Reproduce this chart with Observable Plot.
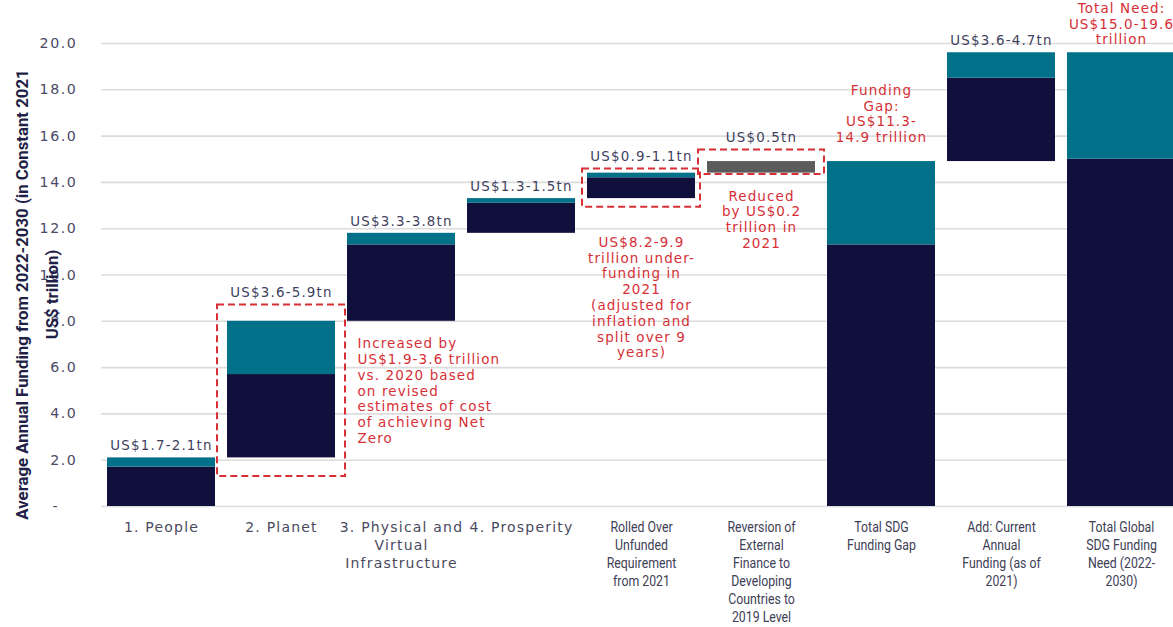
<!DOCTYPE html>
<html><head><meta charset="utf-8">
<script src="https://cdn.jsdelivr.net/npm/d3@7"></script>
<script src="https://cdn.jsdelivr.net/npm/@observablehq/plot@0.6"></script>
<style>
html,body{margin:0;padding:0;background:#fff;}
#chart svg{display:block;overflow:hidden;}
</style></head><body><div id="chart"></div>
<script>
const categories = [
  "1. People",
  "2. Planet",
  "3. Physical and\nVirtual\nInfrastructure",
  "4. Prosperity",
  "Rolled Over\nUnfunded\nRequirement\nfrom 2021",
  "Reversion of\nExternal\nFinance to\nDeveloping\nCountries to\n2019 Level",
  "Total SDG\nFunding Gap",
  "Add: Current\nAnnual\nFunding (as of\n2021)",
  "Total Global\nSDG Funding\nNeed (2022-\n2030)"
];
const darkLow  = [0,   2.1, 8.0,  11.8, 13.3, null, 0,    14.9, 0];
const darkHigh = [1.7, 5.7, 11.3, 13.1, 14.2, null, 11.3, 18.5, 15.0];
const tealHigh = [2.1, 8.0, 11.8, 13.3, 14.4, null, 14.9, 19.6, 19.6];
const grayLow  = [null, null, null, null, null, 14.4, null, null, null];
const grayHigh = [null, null, null, null, null, 14.9, null, null, null];
const valueLabels = ["US$1.7-2.1tn", "US$3.6-5.9tn", "US$3.3-3.8tn", "US$1.3-1.5tn", "US$0.9-1.1tn", "US$0.5tn", null, "US$3.6-4.7tn", null];

const boxIndex = [1, 4, 5];
const boxLow   = [1.3, 12.93, 14.34];
const boxHigh  = [8.7, 14.58, 15.4];
const boxPad   = [10, 5, 9];

const noteIndex = [4, 5, 6, 8];
const noteY = [9.05, 12.41, 16.98, 20.86];
const noteText = [
  "US$8.2-9.9\ntrillion under-\nfunding in\n2021\n(adjusted for\ninflation and\nsplit over 9\nyears)",
  "Reduced\nby US$0.2\ntrillion in\n2021",
  "Funding\nGap:\nUS$11.3-\n14.9 trillion",
  "Total Need:\nUS$15.0-19.6\ntrillion"
];
const planetNote = "Increased by\nUS$1.9-3.6 trillion\nvs. 2020 based\non revised\nestimates of cost\nof achieving Net\nZero";
const planetNoteIndex = 2;
const planetNoteY = 5.01;

const yTicks = [0, 2, 4, 6, 8, 10, 12, 14, 16, 18, 20];
const yTitle = "Average Annual Funding from 2022-2030 (in Constant 2021\nUS$ trillion)";

const navy = "#10103d", teal = "#01718a", gray = "#5b5b5b", red = "#d62f35";
const labelColor = "#3f3f5e";

const rows = categories.map((c, i) => ({
  c, dl: darkLow[i], dh: darkHigh[i], th: tealHigh[i], gl: grayLow[i], gh: grayHigh[i], label: valueLabels[i]
}));
const boxes = boxIndex.map((i, k) => ({c: categories[i], lo: boxLow[k], hi: boxHigh[k]}));
const labelRows = rows.filter(r => r.label).map(r => {
  const k = boxIndex.indexOf(categories.indexOf(r.c));
  return {c: r.c, label: r.label, top: k >= 0 ? boxHigh[k] : (r.th ?? r.gh)};
});
const notes = noteIndex.map((i, k) => ({c: categories[i], y: noteY[k], text: noteText[k]}));

// distinct font sizes identify each text group for the letter-spacing pass below
const fs = {value: 13.4, note: 13.5, ytick: 14.2, xleft: 14, xright: 14.5, title: 16.8};

const chart = Plot.plot({
  width: 1173, height: 627,
  marginLeft: 101, marginRight: 0, marginTop: 38, marginBottom: 121,
  x: {domain: categories, range: [95, 1187], padding: 0.1, axis: null},
  y: {domain: [0, 20], range: [506, 43], axis: null},
  marks: [
    Plot.ruleY(yTicks, {stroke: "#dcdcdc", strokeWidth: 1.6}),
    Plot.barY(rows.filter(r => r.dh != null), {x: "c", y1: "dl", y2: "dh", fill: navy}),
    Plot.barY(rows.filter(r => r.th != null), {x: "c", y1: "dh", y2: "th", fill: teal}),
    Plot.barY(rows.filter(r => r.gh != null), {x: "c", y1: "gl", y2: "gh", fill: gray}),
    ...boxes.map((b, k) => Plot.barY([b], {x: "c", y1: "lo", y2: "hi", fill: "none", stroke: red, strokeWidth: 2, strokeDasharray: "7,4", insetLeft: -boxPad[k], insetRight: -boxPad[k]})),
    Plot.text(labelRows, {x: "c", y: "top", text: "label", dy: -12, fontSize: fs.value, fontFamily: "DejaVu Sans", fill: labelColor}),
    Plot.text(notes, {x: "c", y: "y", text: "text", fontSize: fs.note, fontFamily: "DejaVu Sans", fill: red, lineHeight: 1.17}),
    Plot.text([planetNote], {x: () => categories[planetNoteIndex], y: () => planetNoteY, text: d => d, textAnchor: "start", dx: -44, fontSize: fs.note, fontFamily: "DejaVu Sans", fill: red, lineHeight: 1.17}),
    Plot.axisY({ticks: yTicks, tickFormat: d => d === 0 ? "-\u00a0\u00a0\u00a0" : d.toFixed(1), tickSize: 0, tickPadding: 24, fontSize: fs.ytick, fontFamily: "DejaVu Sans", color: "#4a4a66", label: null}),
    Plot.axisX({ticks: categories.slice(0, 4), tickSize: 0, tickPadding: 13, fontSize: fs.xleft, fontFamily: "DejaVu Sans", lineHeight: 1.29, color: "#4a4a5e", label: null}),
    Plot.axisX({ticks: categories.slice(4), tickSize: 0, tickPadding: 13, fontSize: fs.xright, fontFamily: "Roboto", lineHeight: 1.24, color: "#404056", label: null}),
    Plot.text([yTitle], {frameAnchor: "left", dx: -68, dy: 22, rotate: -90, text: d => d, fontSize: fs.title, fontWeight: "bold", fontFamily: "Roboto", fill: "#1f1f48", lineHeight: 1.8, textAnchor: "middle", lineAnchor: "middle"})
  ]
});
document.getElementById("chart").appendChild(chart);

// text styling: letter spacing and horizontal condensing, keyed on font size
const spacing = {[fs.value]: 1.2, [fs.note]: 1.1, [fs.ytick]: 1.6, [fs.xleft]: 1.2};
chart.querySelectorAll("g[font-size]").forEach(g => {
  const size = +g.getAttribute("font-size");
  if (spacing[size] != null) {
    g.querySelectorAll("text").forEach(t => t.setAttribute("letter-spacing", spacing[size]));
  }
  if (size === fs.xright) {
    g.querySelectorAll("text").forEach(t => {
      t.setAttribute("transform", (t.getAttribute("transform") || "") + " scale(0.85,1)");
    });
  }
});
</script>
</body></html>
